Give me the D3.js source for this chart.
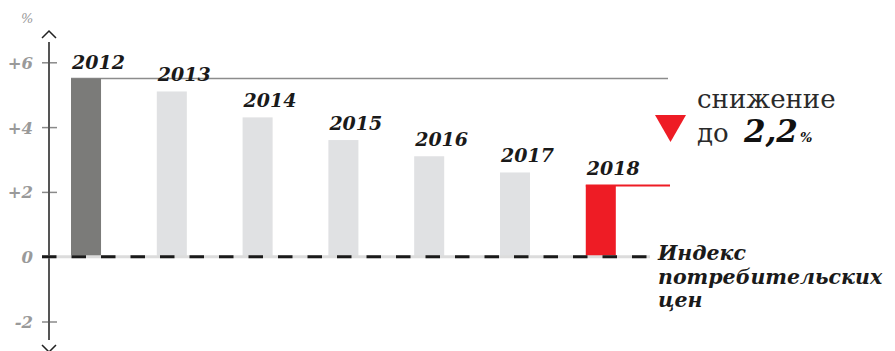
<!DOCTYPE html>
<html>
<head>
<meta charset="utf-8">
<script src="https://cdn.jsdelivr.net/npm/d3@7/dist/d3.min.js"></script>
<style>
  html, body { margin: 0; padding: 0; background: #fff; }
  svg { display: block; }
  .serif { font-family: "DejaVu Serif", "Liberation Serif", serif; }
  .cursive { font-family: "DejaVu Serif", "Liberation Serif", serif; font-style: italic; font-weight: bold; }
</style>
</head>
<body>
<svg id="chart" width="895" height="351"></svg>
<script>
// Consumer price index by year, %
const years = ["2012", "2013", "2014", "2015", "2016", "2017", "2018"];
const cpi = [5.5, 5.1, 4.3, 3.6, 3.1, 2.6, 2.2];
const tickValues = [-2, 0, 2, 4, 6];
const tickLabels = ["-2", "0", "+2", "+4", "+6"];
const highlight = { first: "2012", last: "2018" };
const noteLines = ["снижение", "до"];
const noteValue = "2,2";
const indexLabel = ["Индекс", "потребительских", "цен"];

const svg = d3.select("#chart");

const x = d3.scaleBand()
  .domain(years)
  .range([71, 615.8])
  .paddingInner(0.65)
  .paddingOuter(0);

const y = d3.scaleLinear()
  .domain([-2, 6])
  .range([321.5, 62.3]);

const axisX = 49;
const y0 = y(0);

// y axis ticks
const axis = d3.axisLeft(y)
  .tickValues(tickValues)
  .tickFormat((d, i) => tickLabels[i])
  .tickSize(0);

const gAxis = svg.append("g")
  .attr("transform", `translate(${axisX},0)`)
  .call(axis);
gAxis.select(".domain").remove();
gAxis.selectAll(".tick line")
  .attr("x1", -7).attr("x2", 8)
  .attr("stroke", "#8a8a8a").attr("stroke-width", 1.5);
gAxis.selectAll(".tick text")
  .attr("x", -16)
  .attr("dy", "0.36em")
  .attr("class", "serif")
  .attr("font-size", 16.5)
  .attr("font-weight", "bold")
  .attr("font-style", "italic")
  .attr("fill", "#9a9a9a");

// vertical axis line with chevrons
svg.append("line")
  .attr("x1", axisX).attr("x2", axisX)
  .attr("y1", 42).attr("y2", 340)
  .attr("stroke", "#555").attr("stroke-width", 2);
svg.append("path")
  .attr("d", `M${axisX - 7},38 L${axisX},31 L${axisX + 7},38`)
  .attr("fill", "none").attr("stroke", "#222").attr("stroke-width", 1.5);
svg.append("path")
  .attr("d", `M${axisX - 7},345 L${axisX},352 L${axisX + 7},345`)
  .attr("fill", "none").attr("stroke", "#222").attr("stroke-width", 1.5);

svg.append("text")
  .attr("class", "serif")
  .attr("x", 21).attr("y", 23)
  .attr("font-size", 13)
  .attr("font-style", "italic")
  .attr("fill", "#999")
  .text("%");

// reference lines: starting level and final level
const lastX = x(highlight.last);
svg.append("line")
  .attr("x1", x(highlight.first)).attr("x2", 668)
  .attr("y1", y(cpi[0])).attr("y2", y(cpi[0]))
  .attr("stroke", "#8c8c8c").attr("stroke-width", 1.5);

// bars
svg.append("g")
  .selectAll("rect")
  .data(years)
  .join("rect")
  .attr("x", d => x(d))
  .attr("width", x.bandwidth())
  .attr("y", (d, i) => y(cpi[i]))
  .attr("height", (d, i) => y0 - y(cpi[i]))
  .attr("fill", d => d === highlight.first ? "#7b7b79" : d === highlight.last ? "#ee1c25" : "#e0e1e3");

svg.append("line")
  .attr("x1", lastX).attr("x2", 670)
  .attr("y1", y(cpi[cpi.length - 1])).attr("y2", y(cpi[cpi.length - 1]))
  .attr("stroke", "#ee1c25").attr("stroke-width", 2);

// year labels
svg.append("g")
  .selectAll("text")
  .data(years)
  .join("text")
  .attr("class", "serif")
  .attr("x", d => x(d) + 1)
  .attr("y", (d, i) => y(cpi[i]) - 10)
  .attr("font-size", 19)
  .attr("font-weight", "bold")
  .attr("font-style", "italic")
  .attr("fill", "#1a1a1a")
  .text(d => d);

// zero line: light underlay with black dashes
svg.append("line")
  .attr("x1", 42).attr("x2", 650)
  .attr("y1", y0).attr("y2", y0)
  .attr("stroke", "#dcdcdc").attr("stroke-width", 3);
svg.append("line")
  .attr("x1", 42).attr("x2", 650)
  .attr("y1", y0).attr("y2", y0)
  .attr("stroke", "#1a1a1a").attr("stroke-width", 3)
  .attr("stroke-dasharray", "14.5,15");

// note: decrease to 2.2%
svg.append("path")
  .attr("d", "M655,115 L686,115 L670.5,142 Z")
  .attr("fill", "#ee1c25");

svg.append("text")
  .attr("class", "serif")
  .attr("x", 697).attr("y", 108)
  .attr("font-size", 26)
  .attr("fill", "#2a2a2a")
  .text(noteLines[0]);

svg.append("text")
  .attr("class", "serif")
  .attr("x", 697).attr("y", 142)
  .attr("font-size", 26)
  .attr("fill", "#2a2a2a")
  .text(noteLines[1]);

const t2 = svg.append("text")
  .attr("class", "serif")
  .attr("x", 744).attr("y", 142)
  .attr("font-weight", "bold").attr("font-style", "italic")
  .attr("fill", "#111");
t2.append("tspan").attr("font-size", 31).text(noteValue);
t2.append("tspan").attr("font-size", 13).attr("dx", 2).text("%");

// index label
svg.append("text")
  .attr("class", "cursive")
  .attr("font-size", 20.5)
  .attr("fill", "#1a1a1a")
  .selectAll("tspan")
  .data(indexLabel)
  .join("tspan")
  .attr("x", 658)
  .attr("y", (d, i) => 260 + i * 23.5)
  .text(d => d);
</script>
</body>
</html>
